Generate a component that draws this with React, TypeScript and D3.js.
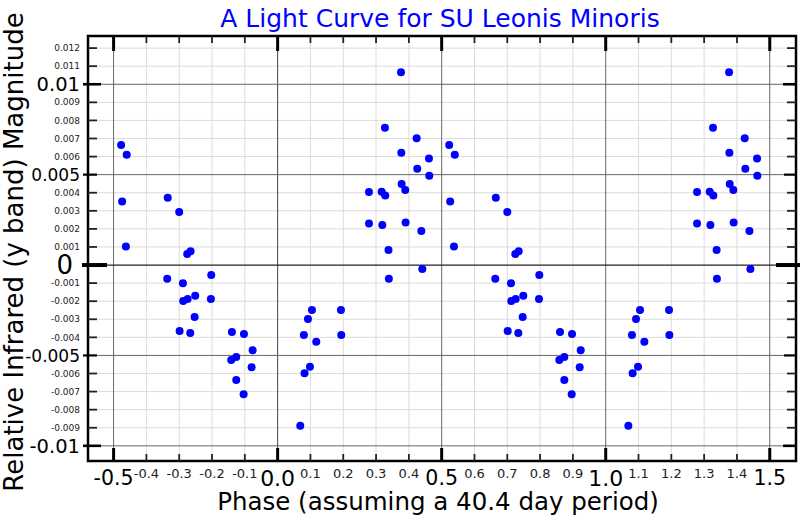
import React from "react";
import * as d3 from "d3";

// Folded light-curve observations (phase in [-0.5, 0.5], relative y-band magnitude)
const phases = [
  -0.477, -0.46, -0.474, -0.4625, -0.335, -0.3, -0.2756, -0.2653, -0.2024, -0.3366,
  -0.2887, -0.2878, -0.2744, -0.2512, -0.2034, -0.253, -0.2988, -0.2664, -0.1393, -0.1027,
  -0.0762, -0.1415, -0.1262, -0.0793, -0.1262, -0.1037,
  0.069, 0.082, 0.0985, 0.08, 0.1178, 0.0924, 0.1046, 0.193, 0.194, 0.339,
  0.441, 0.376, 0.327, 0.4237, 0.377, 0.4613, 0.4256, 0.4622, 0.378, 0.389,
  0.2784, 0.317, 0.328, 0.2784, 0.319, 0.39, 0.438, 0.338,
];
const magnitudes = [
  0.00664, 0.0061, 0.00352, 0.00103, 0.00372, 0.00293, 0.00061, 0.00076, -0.00055, -0.00076,
  -0.00101, -0.00199, -0.00188, -0.0017, -0.00188, -0.00288, -0.00365, -0.00376, -0.00371, -0.00382,
  -0.00472, -0.00525, -0.00509, -0.00566, -0.00636, -0.00715,
  -0.00889, -0.00599, -0.00562, -0.00387, -0.00424, -0.00299, -0.00249, -0.00249, -0.00387, -0.00076,
  -0.00022, 0.01066, 0.00759, 0.00701, 0.00621, 0.0059, 0.00533, 0.00494, 0.00448, 0.00415,
  0.00404, 0.00406, 0.00384, 0.0023, 0.00221, 0.00236, 0.00188, 0.00083,
];
// The folded curve is drawn over two cycles
const cycles = [0, 1];

// Axis ticks
const xMinorTicks = [-0.4, -0.3, -0.2, -0.1, 0.1, 0.2, 0.3, 0.4, 0.6, 0.7, 0.8, 0.9, 1.1, 1.2, 1.3, 1.4];
const xMinorLabels = ["-0.4", "-0.3", "-0.2", "-0.1", "0.1", "0.2", "0.3", "0.4", "0.6", "0.7", "0.8", "0.9", "1.1", "1.2", "1.3", "1.4"];
const xMajorTicks = [-0.5, 0, 0.5, 1, 1.5];
const xMajorLabels = ["-0.5", "0.0", "0.5", "1.0", "1.5"];

const yMinorTicks = [0.012, 0.011, 0.009, 0.008, 0.007, 0.006, 0.004, 0.003, 0.002, 0.001,
  -0.001, -0.002, -0.003, -0.004, -0.006, -0.007, -0.008, -0.009];
const yMinorLabels = ["0.012", "0.011", "0.009", "0.008", "0.007", "0.006", "0.004", "0.003", "0.002", "0.001",
  "-0.001", "-0.002", "-0.003", "-0.004", "-0.006", "-0.007", "-0.008", "-0.009"];
const yHalfTicks = [0.005, -0.005];
const yHalfLabels = ["0.005", "-0.005"];
const yFullTicks = [0.01, -0.01];
const yFullLabels = ["0.01", "-0.01"];
const yZeroTick = 0;
const yZeroLabel = "0";

const titleText = "A Light Curve for SU Leonis Minoris";
const xTitle = "Phase (assuming a 40.4 day period)";
const yTitle = "Relative Infrared (y band) Magnitude";

const W = 800;
const H = 520;
const L = 88, R = 796, T = 36, B = 461;
const FONT = "DejaVu Sans, sans-serif";

export default function App() {
  const x = d3.scaleLinear().domain([-0.578, 1.58]).range([L, R]);
  const y = d3.scaleLinear().domain([-0.01084, 0.01267]).range([B, T]);

  const points: { px: number; py: number }[] = [];
  cycles.forEach((c) => {
    phases.forEach((p, i) => points.push({ px: x(p + c), py: y(magnitudes[i]) }));
  });

  const yMajorAll = [...yHalfTicks, ...yFullTicks];

  return (
    <svg width={W} height={H} style={{ position: "absolute", left: 0, top: 0, background: "#fff" }} fontFamily={FONT}>
      <rect x={0} y={0} width={W} height={H} fill="#fff" />
      {/* minor grid */}
      {xMinorTicks.map((t) => (
        <line key={"gx" + t} x1={x(t)} x2={x(t)} y1={T} y2={B} stroke="#dcdcdc" strokeWidth={1} />
      ))}
      {yMinorTicks.map((t) => (
        <line key={"gy" + t} x1={L} x2={R} y1={y(t)} y2={y(t)} stroke="#dcdcdc" strokeWidth={1} />
      ))}
      {/* major grid */}
      {xMajorTicks.map((t) => (
        <line key={"GX" + t} x1={x(t)} x2={x(t)} y1={T} y2={B} stroke={t === 0 ? "#444" : "#666"} strokeWidth={1} />
      ))}
      {yMajorAll.map((t) => (
        <line key={"GY" + t} x1={L} x2={R} y1={y(t)} y2={y(t)} stroke="#666" strokeWidth={1} />
      ))}
      <line x1={L} x2={R} y1={y(yZeroTick)} y2={y(yZeroTick)} stroke="#222" strokeWidth={1.2} />

      {/* points */}
      {points.map((d, i) => (
        <circle key={i} cx={d.px} cy={d.py} r={4} fill="#0000ff" />
      ))}

      {/* frame */}
      <rect x={L} y={T} width={R - L} height={B - T} fill="none" stroke="#000" strokeWidth={2.5} />

      {/* x ticks */}
      {xMinorTicks.map((t) => (
        <g key={"tx" + t}>
          <line x1={x(t)} x2={x(t)} y1={B} y2={B - 7} stroke="#222" strokeWidth={1.8} />
          <line x1={x(t)} x2={x(t)} y1={T} y2={T + 7} stroke="#222" strokeWidth={1.8} />
        </g>
      ))}
      {xMajorTicks.map((t) => (
        <g key={"TX" + t}>
          <line x1={x(t)} x2={x(t)} y1={B} y2={B - 13} stroke="#000" strokeWidth={3} />
          <line x1={x(t)} x2={x(t)} y1={T} y2={T + 15} stroke="#000" strokeWidth={3} />
        </g>
      ))}
      {/* y ticks */}
      {yMinorTicks.map((t) => (
        <g key={"ty" + t}>
          <line x1={L} x2={L + 9} y1={y(t)} y2={y(t)} stroke="#222" strokeWidth={1.8} />
          <line x1={R} x2={R - 9} y1={y(t)} y2={y(t)} stroke="#222" strokeWidth={1.8} />
        </g>
      ))}
      {yHalfTicks.map((t) => (
        <g key={"TYh" + t}>
          <line x1={L - 5} x2={L + 9} y1={y(t)} y2={y(t)} stroke="#000" strokeWidth={2.2} />
          <line x1={R} x2={R - 12} y1={y(t)} y2={y(t)} stroke="#000" strokeWidth={2.2} />
        </g>
      ))}
      {yFullTicks.map((t) => (
        <g key={"TYf" + t}>
          <line x1={L - 5} x2={L + 13} y1={y(t)} y2={y(t)} stroke="#000" strokeWidth={2.6} />
          <line x1={R} x2={R - 13} y1={y(t)} y2={y(t)} stroke="#000" strokeWidth={2.6} />
        </g>
      ))}
      <line x1={L - 6} x2={L + 19} y1={y(yZeroTick)} y2={y(yZeroTick)} stroke="#000" strokeWidth={4} />
      <line x1={R - 20} x2={W} y1={y(yZeroTick)} y2={y(yZeroTick)} stroke="#000" strokeWidth={4} />

      {/* x tick labels */}
      {xMinorTicks.map((t, i) => (
        <text key={"lx" + t} x={x(t)} y={473} dy="0.35em" textAnchor="middle" fontSize={13} fill="#222">
          {xMinorLabels[i]}
        </text>
      ))}
      {xMajorTicks.map((t, i) => (
        <text key={"LX" + t} x={x(t)} y={478} dy="0.36em" textAnchor="middle"
          fontSize={Number.isInteger(t) ? 22 : 20.5} fill="#000">
          {xMajorLabels[i]}
        </text>
      ))}
      {/* y tick labels */}
      {yMinorTicks.map((t, i) => (
        <text key={"ly" + t} x={80} y={y(t)} dy="0.35em" textAnchor="end" fontSize={9} fill="#222">
          {yMinorLabels[i]}
        </text>
      ))}
      {yHalfTicks.map((t, i) => (
        <text key={"LYh" + t} x={80} y={y(t)} dy="0.36em" textAnchor="end" fontSize={17} fill="#000">
          {yHalfLabels[i]}
        </text>
      ))}
      {yFullTicks.map((t, i) => (
        <text key={"LYf" + t} x={80} y={y(t)} dy="0.36em" textAnchor="end" fontSize={19.5} fill="#000">
          {yFullLabels[i]}
        </text>
      ))}
      <text x={73} y={y(yZeroTick)} dy="0.36em" textAnchor="end" fontSize={26} fill="#000">
        {yZeroLabel}
      </text>

      {/* titles */}
      <text x={440} y={26.5} textAnchor="middle" fontSize={25} fill="#0000ff">{titleText}</text>
      <text x={438} y={510} textAnchor="middle" fontSize={24.5} fill="#000">{xTitle}</text>
      <text transform={`translate(23,252) rotate(-90)`} textAnchor="middle" fontSize={26} fill="#000">{yTitle}</text>
    </svg>
  );
}
